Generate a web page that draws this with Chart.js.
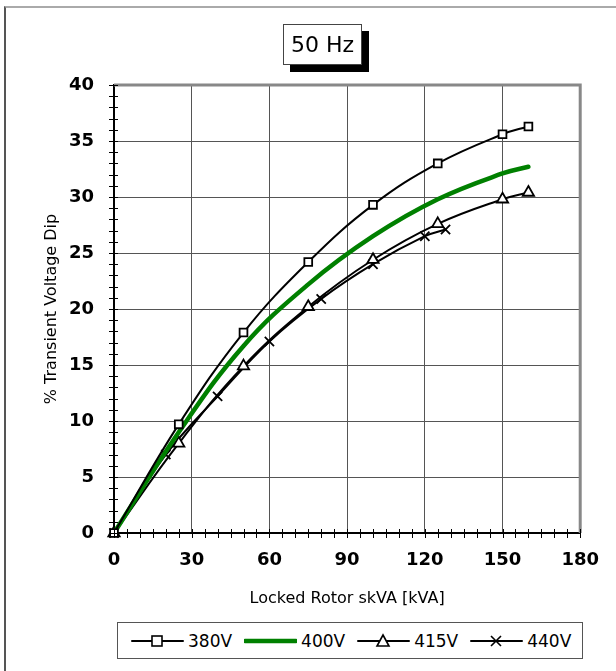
<!DOCTYPE html>
<html>
<head>
<meta charset="utf-8">
<script src="https://cdn.jsdelivr.net/npm/chart.js@4/dist/chart.umd.min.js"></script>
<style>
  body { margin: 0; overflow: hidden; background: #fff; font-family: "DejaVu Sans", sans-serif; }
  #wrap { position: relative; width: 616px; height: 671px; overflow: hidden; }
  #frame { position: absolute; left: 4px; top: 6px; width: 700px; height: 700px;
           border-left: 2px solid #555; border-top: 2px solid #aaa; }
  #chart { position: absolute; left: 0; top: 0; }
  #title { position: absolute; left: 283px; top: 24px; width: 77px; height: 39px;
           border: 1px solid #444; background: #fff; box-shadow: 7px 7px 0 #000;
           font-size: 22px; line-height: 39px; text-align: center; color: #000; }
  #legend { position: absolute; left: 117px; top: 622px; width: 466px; height: 37px;
            border: 1px solid #555; background: #fff; display: flex; align-items: center;
            padding-left: 13px; box-sizing: border-box; font-size: 17px; color: #000; }
  .item { display: flex; align-items: center; margin-right: 12px; }
  .item svg { margin-right: 4px; }
</style>
</head>
<body>
<div id="wrap">
  <div id="frame"></div>
  <canvas id="chart" width="616" height="671"></canvas>
  <div id="title">50 Hz</div>
  <div id="legend"></div>
</div>
<script>
// data
const seriesNames = ["380V", "400V", "415V", "440V"];
const kva380 = [0, 25, 50, 75, 100, 125, 150, 160];
const dip380 = [0, 9.7, 17.9, 24.2, 29.3, 33.0, 35.6, 36.3];
const kva400 = [0, 25, 50, 75, 100, 125, 150, 160];
const dip400 = [0, 9.0, 16.7, 22.2, 26.5, 29.8, 32.1, 32.7];
const kva415 = [0, 25, 50, 75, 100, 125, 150, 160];
const dip415 = [0, 8.0, 14.9, 20.2, 24.4, 27.6, 29.8, 30.4];
const kva440 = [0, 20, 40, 60, 80, 100, 120, 128];
const dip440 = [0, 7.0, 12.2, 17.1, 20.9, 24.0, 26.5, 27.1];
const xTicks = [0, 30, 60, 90, 120, 150, 180];
const yTicks = [0, 5, 10, 15, 20, 25, 30, 35, 40];

function pts(xs, ys) {
    return xs.map((x, i) => ({ x: x, y: ys[i] }));
}

const styles = [
    { color: "#000", width: 2, point: "rect", radius: 5.5 },
    { color: "#008000", width: 4.5, point: false, radius: 0 },
    { color: "#000", width: 2, point: "triangle", radius: 6.5 },
    { color: "#000", width: 2, point: "crossRot", radius: 6.5 }
];
const allData = [pts(kva380, dip380), pts(kva400, dip400), pts(kva415, dip415), pts(kva440, dip440)];

// minor ticks and the grey top/right frame of the plot area
const plotDecor = {
    id: "plotDecor",
    afterDraw(chart) {
        const ctx = chart.ctx;
        const a = chart.chartArea;
        const xs = chart.scales.x, ys = chart.scales.y;
        ctx.save();
        ctx.strokeStyle = "#888";
        ctx.lineWidth = 3;
        ctx.beginPath();
        ctx.moveTo(a.left, a.top);
        ctx.lineTo(a.right, a.top);
        ctx.lineTo(a.right, a.bottom);
        ctx.stroke();
        ctx.strokeStyle = "#000";
        ctx.lineWidth = 1;
        ctx.beginPath();
        for (let v = 0; v <= 40; v += 1) {
            const y = Math.round(ys.getPixelForValue(v)) + 0.5;
            ctx.moveTo(a.left - 5, y);
            ctx.lineTo(a.left + 4, y);
        }
        for (let v = 0; v <= 180; v += 5) {
            const x = Math.round(xs.getPixelForValue(v)) + 0.5;
            ctx.moveTo(x, a.bottom - 4);
            ctx.lineTo(x, a.bottom + 5);
        }
        ctx.stroke();
        ctx.restore();
    }
};

const ctx = document.getElementById("chart").getContext("2d");
const chart = new Chart(ctx, {
    type: "line",
    data: {
        datasets: seriesNames.map((name, i) => ({
            label: name,
            data: allData[i],
            borderColor: styles[i].color,
            borderWidth: styles[i].width,
            borderCapStyle: "round",
            pointStyle: styles[i].point,
            pointRadius: styles[i].radius,
            pointBorderWidth: 1.8,
            pointBackgroundColor: "#fff",
            pointBorderColor: "#000",
            tension: 0.4,
            fill: false,
            clip: false
        }))
    },
    options: {
        responsive: false,
        animation: false,
        devicePixelRatio: 1,
        layout: { padding: { left: 0, top: 85, right: 34, bottom: 58 } },
        plugins: { legend: { display: false }, title: { display: false }, tooltip: { enabled: false } },
        scales: {
            x: {
                type: "linear",
                min: 0,
                max: 180,
                afterBuildTicks: s => { s.ticks = xTicks.map(v => ({ value: v })); },
                afterFit: s => { s.height = 80; },
                ticks: { color: "#000", padding: 17, font: { family: "DejaVu Sans", size: 18, weight: "bold" } },
                grid: { color: "#555", lineWidth: 1, drawTicks: false },
                border: { color: "#000", width: 2 },
                title: {
                    display: true,
                    text: "Locked Rotor skVA [kVA]",
                    color: "#000",
                    font: { family: "DejaVu Sans", size: 16 },
                    padding: { top: 0, bottom: 5 }
                }
            },
            y: {
                type: "linear",
                min: 0,
                max: 40,
                afterBuildTicks: s => { s.ticks = yTicks.map(v => ({ value: v })); },
                afterFit: s => { s.width = 114; },
                ticks: { color: "#000", padding: 20, font: { family: "DejaVu Sans", size: 18, weight: "bold" } },
                grid: { color: "#555", lineWidth: 1, drawTicks: false },
                border: { color: "#000", width: 2 },
                title: {
                    display: true,
                    text: "% Transient Voltage Dip",
                    color: "#000",
                    font: { family: "DejaVu Sans", size: 16 },
                    padding: { top: 42, bottom: 0 }
                }
            }
        }
    },
    plugins: [plotDecor]
});

// legend: line sample with marker, then label
const legend = document.getElementById("legend");
seriesNames.forEach((name, i) => {
    const st = styles[i];
    let marker = "";
    if (st.point === "rect") marker = '<rect x="21" y="5" width="10" height="10" fill="#fff" stroke="#000" stroke-width="1.6"/>';
    if (st.point === "triangle") marker = '<polygon points="26,4 32,15 20,15" fill="#fff" stroke="#000" stroke-width="1.6"/>';
    if (st.point === "crossRot") marker = '<path d="M21 5 L31 15 M31 5 L21 15" stroke="#000" stroke-width="1.6"/>';
    const div = document.createElement("div");
    div.className = "item";
    div.innerHTML = '<svg width="53" height="20"><line x1="1" y1="10" x2="52" y2="10" stroke="' + st.color +
        '" stroke-width="' + st.width + '" stroke-linecap="round"/>' + marker + '</svg><span>' + name + '</span>';
    legend.appendChild(div);
});
</script>
</body>
</html>
